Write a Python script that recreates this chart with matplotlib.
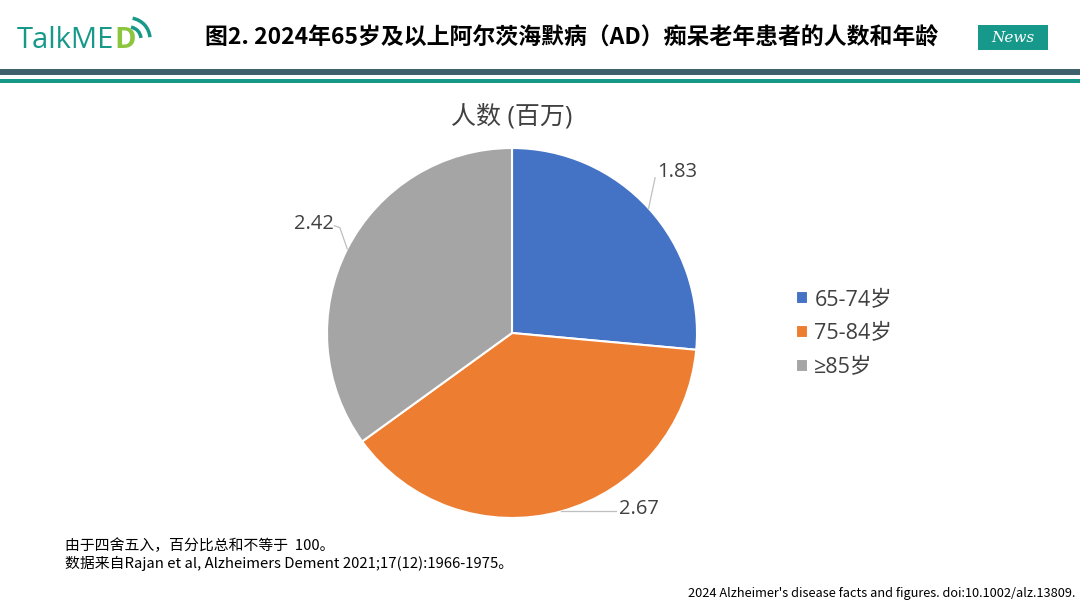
import numpy as np
import matplotlib
matplotlib.use('Agg')
import matplotlib.pyplot as plt
from matplotlib.patches import Rectangle, Arc

plt.rcParams['font.family'] = ['Noto Sans CJK SC', 'DejaVu Sans']

# data (millions of people)
age_groups = ['65-74岁', '75-84岁', '≥85岁']
people = [1.83, 2.67, 2.42]
colors = ['#4472C4', '#ED7D31', '#A5A5A5']

page_title = '图2. 2024年65岁及以上阿尔茨海默病（AD）痴呆老年患者的人数和年龄'
chart_title = '人数 (百万)'
note_lines = ['由于四舍五入，百分比总和不等于  100。',
              '数据来自Rajan et al, Alzheimers Dement 2021;17(12):1966-1975。']
source = "2024 Alzheimer's disease facts and figures. doi:10.1002/alz.13809."

chart_font = ['Open Sans', 'Noto Sans CJK SC', 'DejaVu Sans']

fig = plt.figure(figsize=(10.8, 6.08), dpi=100)
W, H = 1080, 608

def fx(px):
    return px / W

def fy(py):
    return 1 - py / H

# header: logo, title, News badge and the two rules
logo = fig.text(fx(17), fy(41), 'TalkME', fontsize=21, color='#17998A', va='center',
                ha='left', family=['Open Sans', 'DejaVu Sans'])
renderer = fig.canvas.get_renderer()
logo_end = logo.get_window_extent(renderer).x1
fig.text(logo_end / W, fy(41), 'D', fontsize=21, color='#8CC63F', va='center',
         ha='left', family=['Open Sans', 'DejaVu Sans'], fontweight='bold')
logo_ax = fig.add_axes([fx(126), fy(42), fx(30), 30 / H])
logo_ax.set_xlim(0, 1)
logo_ax.set_ylim(0, 1)
logo_ax.set_aspect('equal')
logo_ax.axis('off')
for r in [0.4, 0.7]:
    logo_ax.add_patch(Arc((0.1, 0.1), r * 2, r * 2, theta1=5, theta2=80,
                          color='#17998A', lw=2.5))

fig.text(fx(572), fy(38), page_title, fontsize=16.5, fontweight='bold',
         color='black', ha='center', va='center')

fig.add_artist(Rectangle((fx(978), fy(50)), fx(70), 25 / H, transform=fig.transFigure,
                         facecolor='#16998A', edgecolor='none'))
fig.text(fx(1013), fy(37.5), 'News', fontsize=11, color='white', ha='center', va='center',
         style='italic', family=['DejaVu Serif'])

fig.add_artist(Rectangle((0, fy(75)), 1, 6 / H, transform=fig.transFigure,
                         facecolor='#3E616B', edgecolor='none'))
fig.add_artist(Rectangle((0, fy(82.5)), 1, 3 / H, transform=fig.transFigure,
                         facecolor='#17998A', edgecolor='none'))

# pie
ax = fig.add_axes([fx(512 - 185), fy(518), fx(370), 370 / H])
wedges, _ = ax.pie(people, colors=colors, startangle=90, counterclock=False,
                   wedgeprops=dict(edgecolor='white', linewidth=1.5))
ax.set_aspect('equal')
ax.set_xlim(-1, 1)
ax.set_ylim(-1, 1)

# leader line geometry per slice (same order as people):
# elbow offset and text offset from the wedge edge, in pie radii
leaders = [((0.035, 0.165), (0.045, 0.195), 'left'),
           ((0.30, 0.0), (0.315, 0.015), 'left'),
           ((-0.04, 0.115), (-0.07, 0.135), 'right')]
for w, val, (elbow, toff, ha) in zip(wedges, people, leaders):
    ang = np.deg2rad((w.theta1 + w.theta2) / 2)
    ex, ey = np.cos(ang), np.sin(ang)
    bx, by = ex + elbow[0], ey + elbow[1]
    if ha == 'right':
        ax.plot([ex, bx, bx - 0.03], [ey, by, by + 0.01], color='#BFBFBF', lw=0.9,
                clip_on=False)
    else:
        ax.plot([ex, bx], [ey, by], color='#BFBFBF', lw=0.9, clip_on=False)
    ax.text(ex + toff[0], ey + toff[1], f'{val:.2f}', fontsize=14.5, color='#404040',
            ha=ha, va='center', family=chart_font)

ax.set_title(chart_title, fontsize=18, color='#404040', pad=18, family=chart_font)

leg = ax.legend(wedges, age_groups, loc='center left', bbox_to_anchor=(fx(796), fy(334)),
                bbox_transform=fig.transFigure, frameon=False,
                prop=dict(family=chart_font, size=15.5),
                borderpad=0, borderaxespad=0,
                handlelength=0.55, handleheight=0.55, handletextpad=0.3,
                labelspacing=0.6, labelcolor='#404040')

# footnotes
fig.text(fx(65), fy(546), note_lines[0], fontsize=10.7, color='black', va='center')
fig.text(fx(65), fy(563), note_lines[1], fontsize=10.7, color='black', va='center')
fig.text(fx(1075), fy(594), source, fontsize=9.2, color='black', ha='right', va='center')

fig.savefig('out.png', dpi=100)
